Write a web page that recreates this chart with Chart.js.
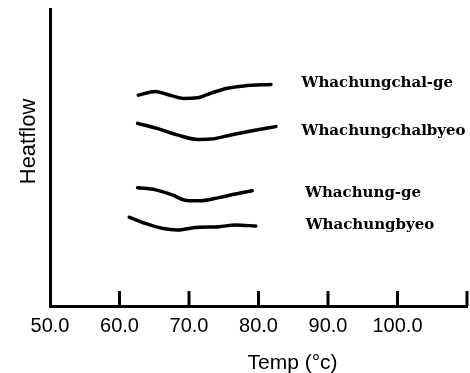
<!DOCTYPE html>
<html>
<head>
<meta charset="utf-8">
<script src="https://cdn.jsdelivr.net/npm/chart.js@4.4.1/dist/chart.umd.min.js"></script>
<style>
  html, body { margin: 0; padding: 0; background: #fff; }
  #wrap { width: 470px; height: 373px; position: relative; }
</style>
</head>
<body>
<div id="wrap"><canvas id="c" width="470" height="373"></canvas></div>
<script>
// ---- data ----
const seriesNames = ["Whachungchal-ge", "Whachungchalbyeo", "Whachung-ge", "Whachungbyeo"];

const chalgeTemp = [62.7, 65.2, 66.8, 69.2, 71.2, 73.1, 75.5, 77.9, 81.8];
const chalgeFlow = [71.0, 72.2, 71.3, 69.9, 70.1, 71.6, 73.3, 74.1, 74.6];

const chalbyeoTemp = [62.6, 65.4, 68.3, 71.2, 73.1, 76.0, 78.9, 82.5];
const chalbyeoFlow = [61.5, 59.8, 57.6, 56.1, 56.2, 57.6, 58.9, 60.4];

const geTemp = [62.6, 65.2, 67.6, 69.7, 71.4, 74.3, 76.7, 79.1];
const geFlow = [39.8, 39.1, 37.4, 35.5, 35.4, 36.5, 37.7, 38.8];

const byeoTemp = [61.4, 63.7, 66.1, 68.3, 70.9, 74.3, 76.7, 79.6];
const byeoFlow = [29.9, 27.8, 26.2, 25.6, 26.4, 26.7, 27.3, 26.9];

const xMin = 50, xMax = 110, xStep = 10;
const yMin = 0, yMax = 100;
const xTitle = "Temp (°c)";
const yTitle = "Heatflow";

// ---- build datasets ----
function pts(xs, ys) { return xs.map((v, i) => ({ x: v, y: ys[i] })); }
const allTemps = [chalgeTemp, chalbyeoTemp, geTemp, byeoTemp];
const allFlows = [chalgeFlow, chalbyeoFlow, geFlow, byeoFlow];
// label placement styling (offsets in px from the curve end, label x in axis units)
const labelStyle = [
  { xVal: 86.2, dy: 3 },
  { xVal: 86.2, dy: 8 },
  { xVal: 86.7, dy: 6 },
  { xVal: 86.8, dy: 3 }
];

const datasets = seriesNames.map((name, i) => ({
  label: name,
  data: pts(allTemps[i], allFlows[i]),
  borderColor: '#000',
  borderWidth: 3.5,
  pointRadius: 0,
  cubicInterpolationMode: 'monotone',
  fill: false,
  borderCapStyle: 'round'
}));

const decor = {
  id: 'decor',
  afterDatasetsDraw(chart) {
    const { ctx, chartArea, scales: { x, y } } = chart;
    ctx.save();
    // inward tick marks
    ctx.strokeStyle = '#000';
    ctx.lineWidth = 3;
    x.ticks.forEach(t => {
      if (t.value === xMin) return;
      const px = x.getPixelForValue(t.value);
      ctx.beginPath();
      ctx.moveTo(px, chartArea.bottom);
      ctx.lineTo(px, chartArea.bottom - 15);
      ctx.stroke();
    });
    // series labels
    ctx.fillStyle = '#000';
    ctx.font = 'bold 15px "DejaVu Serif"';
    ctx.textAlign = 'left';
    ctx.textBaseline = 'alphabetic';
    chart.data.datasets.forEach((ds, i) => {
      const meta = chart.getDatasetMeta(i);
      const last = meta.data[meta.data.length - 1];
      ctx.fillText(ds.label, x.getPixelForValue(labelStyle[i].xVal), last.y + labelStyle[i].dy);
    });
    // axis titles
    ctx.font = '21px "Liberation Sans"';
    ctx.textAlign = 'center';
    ctx.textBaseline = 'middle';
    ctx.fillText(xTitle, x.getPixelForValue(84.9), chartArea.bottom + 57);
    ctx.save();
    ctx.font = '22px "Liberation Sans"';
    ctx.translate(chartArea.left - 21, y.getPixelForValue(55.4));
    ctx.rotate(-Math.PI / 2);
    ctx.fillText(yTitle, 0, 0);
    ctx.restore();
    ctx.restore();
  }
};

new Chart(document.getElementById('c'), {
  type: 'line',
  data: { datasets },
  options: {
    responsive: false,
    devicePixelRatio: 1,
    animation: false,
    layout: { padding: { left: 50, top: 9, right: 3, bottom: 35 } },
    plugins: { legend: { display: false }, tooltip: { enabled: false } },
    scales: {
      x: {
        type: 'linear',
        min: xMin, max: xMax,
        grid: { display: false, drawTicks: true, tickLength: 8 },
        border: { display: true, color: '#000', width: 3 },
        ticks: {
          stepSize: xStep,
          padding: 0,
          color: '#000',
          font: { family: '"Liberation Sans"', size: 20 },
          maxRotation: 0,
          autoSkip: false,
          callback: (v) => (v === xMax ? '' : Number(v).toFixed(1))
        }
      },
      y: {
        type: 'linear',
        min: yMin, max: yMax,
        grid: { display: false, drawTicks: false },
        border: { display: true, color: '#000', width: 3 },
        ticks: { display: false }
      }
    }
  },
  plugins: [decor]
});
</script>
</body>
</html>
